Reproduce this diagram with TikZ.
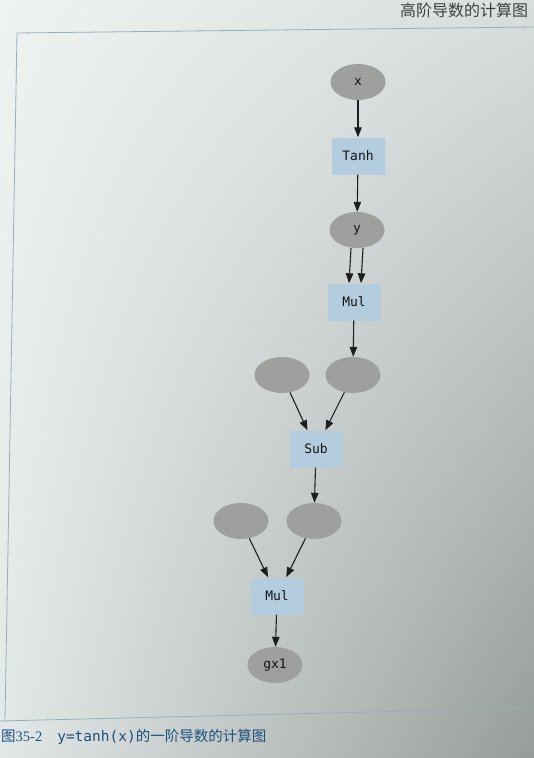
\documentclass[tikz,border=0pt]{standalone}
\usepackage{fontspec}
\setmainfont{Liberation Serif}
\setmonofont{DejaVu Sans Mono}
\newfontfamily\cjk{Noto Sans CJK SC}
\usetikzlibrary{shapes.geometric,arrows.meta,shadings}
\definecolor{ovalfill}{RGB}{158,160,158}
\definecolor{boxfill}{RGB}{180,205,222}
\definecolor{edgecol}{RGB}{30,30,30}
\definecolor{capblue}{RGB}{30,80,128}
\definecolor{framecol}{RGB}{150,175,185}
\definecolor{bgul}{RGB}{238,242,242}
\definecolor{bgur}{RGB}{216,222,222}
\definecolor{bgll}{RGB}{226,232,232}
\definecolor{bglr}{RGB}{150,156,152}
\tikzset{
  oval/.style={ellipse, fill=ovalfill, draw=none, minimum width=55pt, minimum height=36pt, inner sep=0pt,
    font=\ttfamily\fontsize{13}{15}\selectfont, text=black!92},
  opbox/.style={rectangle, fill=boxfill, draw=none, minimum width=53pt, minimum height=37pt, inner sep=0pt,
    font=\ttfamily\fontsize{13}{15}\selectfont, text=black!92},
  edge/.style={draw=edgecol, line width=1.1pt, -{Triangle[length=10pt,width=7.5pt]}, shorten >=0pt}
}
\begin{document}
\begin{tikzpicture}[x=1pt,y=-1pt]
\useasboundingbox (0,0) rectangle (534,758);
\shade[upper left=bgul, upper right=bgur, lower left=bgll, lower right=bglr]
  (0,0) rectangle (534,758);
% page frame lines
\draw[framecol, line width=0.8pt] (17,33) -- (534,27);
\draw[framecol, line width=0.8pt] (17,33) -- (5,720);
\draw[framecol, line width=0.8pt] (0,721) -- (534,708);
% header
\node[anchor=west, font=\cjk\fontsize{16}{18}\selectfont, text=black!75, inner sep=0pt] (hdr) at (400,10) {高阶导数的计算图};
% nodes
\node[oval] (x) at (358,82) {x};
\node[opbox] (tanh) at (358,156) {Tanh};
\node[oval] (y) at (357,230) {y};
\node[opbox] (mul1) at (354,302) {Mul};
\node[oval] (a1) at (282,375) {};
\node[oval] (a2) at (353,375) {};
\node[opbox] (sub) at (316,449) {Sub};
\node[oval] (b1) at (241,521) {};
\node[oval] (b2) at (314,521) {};
\node[opbox] (mul2) at (277,596) {Mul};
\node[oval] (gx) at (275,665) {gx1};
% edges
\draw[edge] (x) -- (tanh);
\draw[edge] (tanh) -- (y);
\draw[edge] ([xshift=-6pt]y.south) -- ([xshift=-5pt]mul1.north);
\draw[edge] ([xshift=6pt]y.south) -- ([xshift=7pt]mul1.north);
\draw[edge] (mul1) -- (a2);
\draw[edge] (a1) -- (sub);
\draw[edge] (a2) -- (sub);
\draw[edge] (sub) -- (b2);
\draw[edge] (b1) -- (mul2);
\draw[edge] (b2) -- (mul2);
\draw[edge] (mul2) -- (gx);
% caption
\node[anchor=west, inner sep=0pt, text=capblue, font=\fontsize{14.5}{17}\selectfont] (cap) at (1,737)
  {{\cjk 图}35-2\hspace{15pt}{\ttfamily y=tanh(x)}{\cjk 的一阶导数的计算图}};
\end{tikzpicture}
\end{document}
